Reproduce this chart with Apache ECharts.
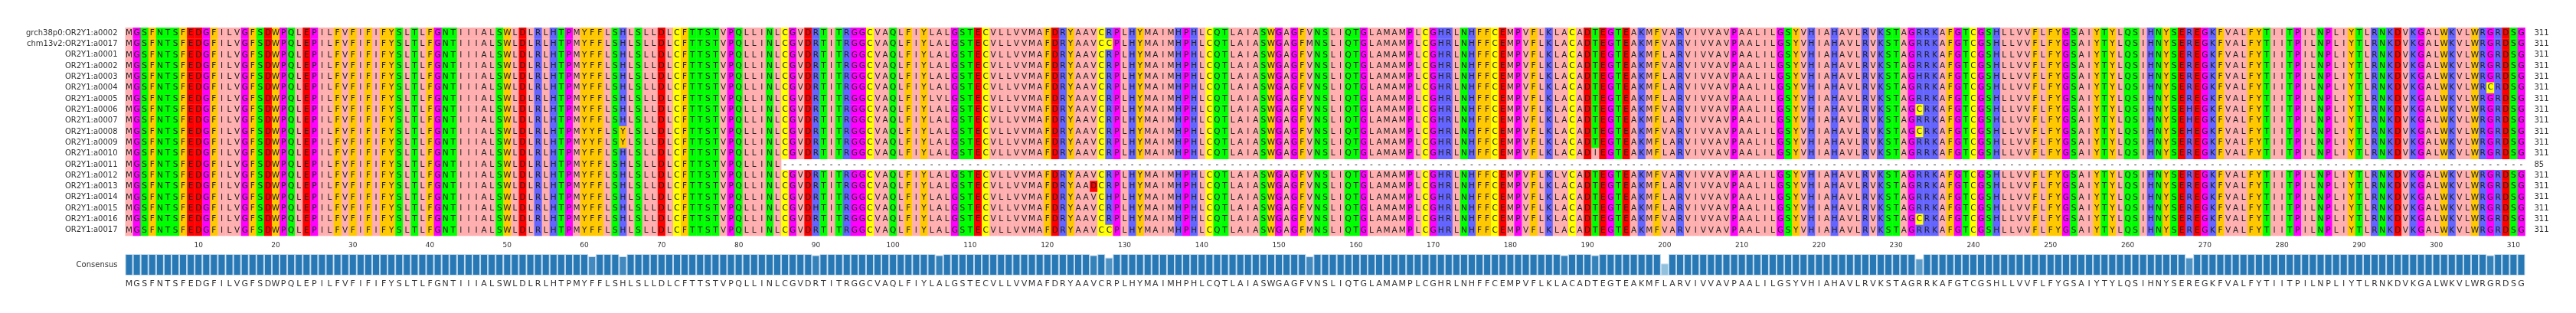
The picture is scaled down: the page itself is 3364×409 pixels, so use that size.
<!DOCTYPE html>
<html><head><meta charset="utf-8">
<script src="https://cdn.jsdelivr.net/npm/echarts@6/dist/echarts.min.js"></script>
<style>html,body{margin:0;padding:0;background:#fff}#c{width:3364px;height:409px}</style>
</head><body><div id="c"></div>
<script>
const rowNames = ["grch38p0:OR2Y1:a0002","chm13v2:OR2Y1:a0017","OR2Y1:a0001","OR2Y1:a0002","OR2Y1:a0003","OR2Y1:a0004","OR2Y1:a0005","OR2Y1:a0006","OR2Y1:a0007","OR2Y1:a0008","OR2Y1:a0009","OR2Y1:a0010","OR2Y1:a0011","OR2Y1:a0012","OR2Y1:a0013","OR2Y1:a0014","OR2Y1:a0015","OR2Y1:a0016","OR2Y1:a0017"];
const seqLengths = [311,311,311,311,311,311,311,311,311,311,311,311,85,311,311,311,311,311,311];
const consensus = "MGSFNTSFEDGFILVGFSDWPQLEPILFVFIFIFYSLTLFG" +
  "NTIIIALSWLDLRLHTPMYFFLSHLSLLDLCFTTSTVPQLLI" +
  "NLCGVDRTITRGGCVAQLFIYLALGSTECVLLVVMAFDRYAA" +
  "VCRPLHYMAIMHPHLCQTLAIASWGAGFVNSLIQTGLAMAM" +
  "PLCGHRLNHFFCEMPVFLKLACADTEGTEAKMFLARVIVVAV" +
  "PAALILGSYVHIAHAVLRVKSTAGRRKAFGTCGSHLLVVFLF" +
  "YGSAIYTYLQSIHNYSEREGKFVALFYTIITPILNPLIYTLR" +
  "NKDVKGALWKVLWRGRDSG";
// [row, column(1-based), residue]
const variants = [
  [9,61,'Y'],[10,61,'Y'],[9,65,'Y'],[10,65,'Y'],[16,90,'H'],[6,106,'V'],
  [14,126,'D'],[1,128,'C'],[18,128,'C'],[15,128,'H'],[1,154,'M'],[18,154,'M'],
  [13,187,'V'],[11,191,'I'],
  [0,200,'V'],[1,200,'V'],[3,200,'V'],[7,200,'V'],[9,200,'V'],[13,200,'V'],[17,200,'V'],[18,200,'V'],
  [4,233,'H'],[7,233,'C'],[9,233,'C'],[17,233,'C'],
  [7,268,'H'],[8,268,'H'],[9,268,'H'],[5,307,'C']
];
const aaColors = {A:'#ffafaf',I:'#ffafaf',L:'#ffafaf',M:'#ffafaf',V:'#ffafaf',
  F:'#ffc800',W:'#ffc800',Y:'#ffc800',K:'#6464ff',R:'#6464ff',H:'#6464ff',
  D:'#ff0000',E:'#ff0000',S:'#00ff00',T:'#00ff00',N:'#00ff00',Q:'#00ff00',
  G:'#ff00ff',P:'#ff00ff',C:'#ffff00'};

const L = consensus.length;
const cols = Array.from({length:L},(_,i)=>String(i+1));
const rows = rowNames.map((n,r)=>consensus.split('').map((c,i)=> i < seqLengths[r] ? c : '-'));
variants.forEach(([r,c,aa])=>{ rows[r][c-1]=aa; });
const cells = [], cellAA = [];
rows.forEach((a,r)=>a.forEach((aa,i)=>{cells.push([i,r]); cellAA.push(aa);}));
const cons = consensus.split('').map((c,i)=>{
  let m=0,n=0; rows.forEach(a=>{ if(a[i]!=='-'){n++; if(a[i]===c)m++;} });
  return m/n;
});
function mix(f){
  const t=Math.max(0,Math.min(1,(f-0.5)/0.5));
  const a=[158,202,225], b=[40,120,181];
  return 'rgb('+a.map((v,k)=>Math.round(v+(b[k]-v)*t)).join(',')+')';
}
const font = "DejaVu Sans";
const chart = echarts.init(document.getElementById('c'));
chart.setOption({
  animation:false,
  grid:[{left:163.5,right:66.5,top:36,height:272},{left:163.5,right:66.5,top:332,height:28}],
  xAxis:[
    {type:'category',gridIndex:0,data:cols,position:'bottom',boundaryGap:true,
     axisLine:{show:false},
     axisTick:{alignWithLabel:true,interval:(i)=>(i+1)%10===0,length:4,lineStyle:{color:'#333'}},
     axisLabel:{interval:(i)=>(i+1)%10===0,fontSize:9,color:'#333',fontFamily:font,margin:8}},
    {type:'category',gridIndex:1,data:consensus.split(''),boundaryGap:true,
     axisLine:{show:false},axisTick:{show:false},
     axisLabel:{interval:0,fontSize:11,color:'#333',fontFamily:font,margin:6}}
  ],
  yAxis:[
    {type:'category',gridIndex:0,data:rowNames,inverse:true,position:'left',axisLine:{show:false},axisTick:{show:false},
     axisLabel:{fontSize:10,color:'#333',fontFamily:font,margin:10}},
    {type:'category',gridIndex:0,data:seqLengths.map(String),inverse:true,position:'right',axisLine:{show:false},axisTick:{show:false},
     axisLabel:{fontSize:10,color:'#333',fontFamily:font,margin:12,align:'left'}},
    {type:'value',gridIndex:1,min:0,max:1,position:'right',show:false},
    {type:'category',gridIndex:1,data:['Consensus'],position:'left',axisLine:{show:false},axisTick:{show:false},
     axisLabel:{fontSize:10,color:'#333',fontFamily:font,margin:10}}
  ],
  series:[
    {type:'custom',xAxisIndex:0,yAxisIndex:0,data:cells,encode:{x:0,y:1},
     progressive:0,progressiveThreshold:100000,
     renderItem:(p,api)=>{
       const aa=cellAA[p.dataIndex];
       const pt=api.coord([api.value(0),api.value(1)]);
       const s=api.size([1,1]);
       const ch=[];
       if(aa!=='-'){
         ch.push({type:'rect',shape:{x:pt[0]-s[0]/2,y:pt[1]-s[1]/2,width:s[0]+0.3,height:s[1]+0.3},style:{fill:aaColors[aa]||'#fff'}});
       }
       ch.push({type:'text',style:{text:aa,x:pt[0],y:pt[1],textAlign:'center',textVerticalAlign:'middle',font:'10.5px '+font,fill:'#222'}});
       return {type:'group',children:ch};
     }},
    {type:'bar',xAxisIndex:1,yAxisIndex:2,barCategoryGap:'0%',
     data:cons.map(f=>({value:f,itemStyle:{color:mix(f),borderColor:'#c5dcee',borderWidth:1}}))}
  ]
});
</script></body></html>
